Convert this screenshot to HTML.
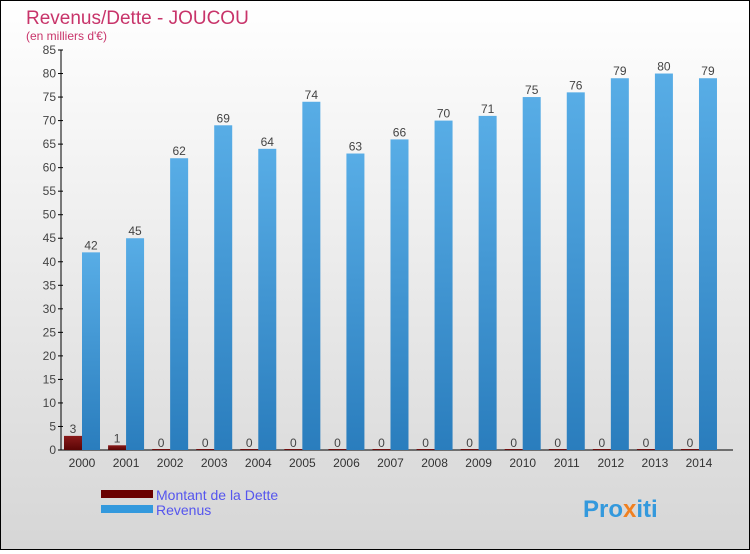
<!DOCTYPE html>
<html><head><meta charset="utf-8"><style>
body{margin:0;}
#c{width:748px;height:548px;border:1px solid #000;background:linear-gradient(#fff,#d6d6d6);position:relative;font-family:"Liberation Sans",sans-serif;}
</style></head><body>
<div id="c">
<svg width="748" height="548" id="s">
<defs>
<linearGradient id="gb" x1="0" y1="0" x2="0" y2="1"><stop offset="0" stop-color="#58ade6"/><stop offset="1" stop-color="#2a7dbd"/></linearGradient>
<linearGradient id="gr" x1="0" y1="0" x2="0" y2="1"><stop offset="0" stop-color="#8a1a1a"/><stop offset="1" stop-color="#5a0505"/></linearGradient>
</defs>
<text x="25" y="23" font-size="19" fill="#c8346a">Revenus/Dette - JOUCOU</text>
<text x="25" y="39" font-size="12" fill="#c8346a">(en milliers d'€)</text>
<g id="g"></g>
<rect x="100" y="489" width="52" height="8" fill="#6a0000"/>
<rect x="100" y="504" width="52" height="8" fill="#3399dd"/>
<text x="155" y="499" font-size="14" fill="#5555ee">Montant de la Dette</text>
<text x="155" y="514" font-size="14" fill="#5555ee">Revenus</text>
<text x="582" y="516" font-size="24" font-weight="bold" fill="#3399dd">Pro<tspan fill="#f08020">x</tspan>iti</text>
</svg></div>
<script>
const years=["2000","2001","2002","2003","2004","2005","2006","2007","2008","2009","2010","2011","2012","2013","2014"];
const dette=[3,1,0,0,0,0,0,0,0,0,0,0,0,0,0];
const revenus=[42,45,62,69,64,74,63,66,70,71,75,76,79,80,79];
const yTicks=[0,5,10,15,20,25,30,35,40,45,50,55,60,65,70,75,80,85];
const NS="http://www.w3.org/2000/svg";
const g=document.getElementById('g');
const y0=449,yTop=49,yMax=85;
const Y=v=>y0-(y0-yTop)*v/yMax;
const X=i=>81+44.07*i;
function mk(t,a,txt){const e=document.createElementNS(NS,t);for(const k in a)e.setAttribute(k,a[k]);if(txt!==undefined)e.textContent=txt;g.appendChild(e);return e;}
let ax=mk('line',{x1:60,y1:Y(85),x2:60,y2:y0,stroke:'#000'});


let xa=mk('line',{x1:60,y1:y0,x2:732,y2:y0,stroke:'#000'});


yTicks.forEach(v=>{
 let t=mk('line',{x1:57,y1:Y(v),x2:62,y2:Y(v),stroke:'#000'});
 
 
 let l=mk('text',{x:55,y:Y(v)+4,'font-size':12,fill:'#444','text-anchor':'end'},v);
 
 
});
years.forEach((yr,i)=>{
 const c=X(i);
 let d=mk('rect',{x:c-18,y:Y(dette[i])-(dette[i]?0:1),width:18,height:y0-Y(dette[i])+(dette[i]?0:1),fill:'url(#gr)'});
 
 
 let r=mk('rect',{x:c,y:Y(revenus[i]),width:18,height:y0-Y(revenus[i]),fill:'url(#gb)'});
 
 
 let dl=mk('text',{x:c-9,y:Y(dette[i])-3,'font-size':12,fill:'#444','text-anchor':'middle'},dette[i]);
 
 
 let rl=mk('text',{x:c+9,y:Y(revenus[i])-3,'font-size':12,fill:'#444','text-anchor':'middle'},revenus[i]);
 
 
 let xl=mk('text',{x:c,y:466,'font-size':12,fill:'#333','text-anchor':'middle'},yr);
 
 
});
</script>
</body></html>
